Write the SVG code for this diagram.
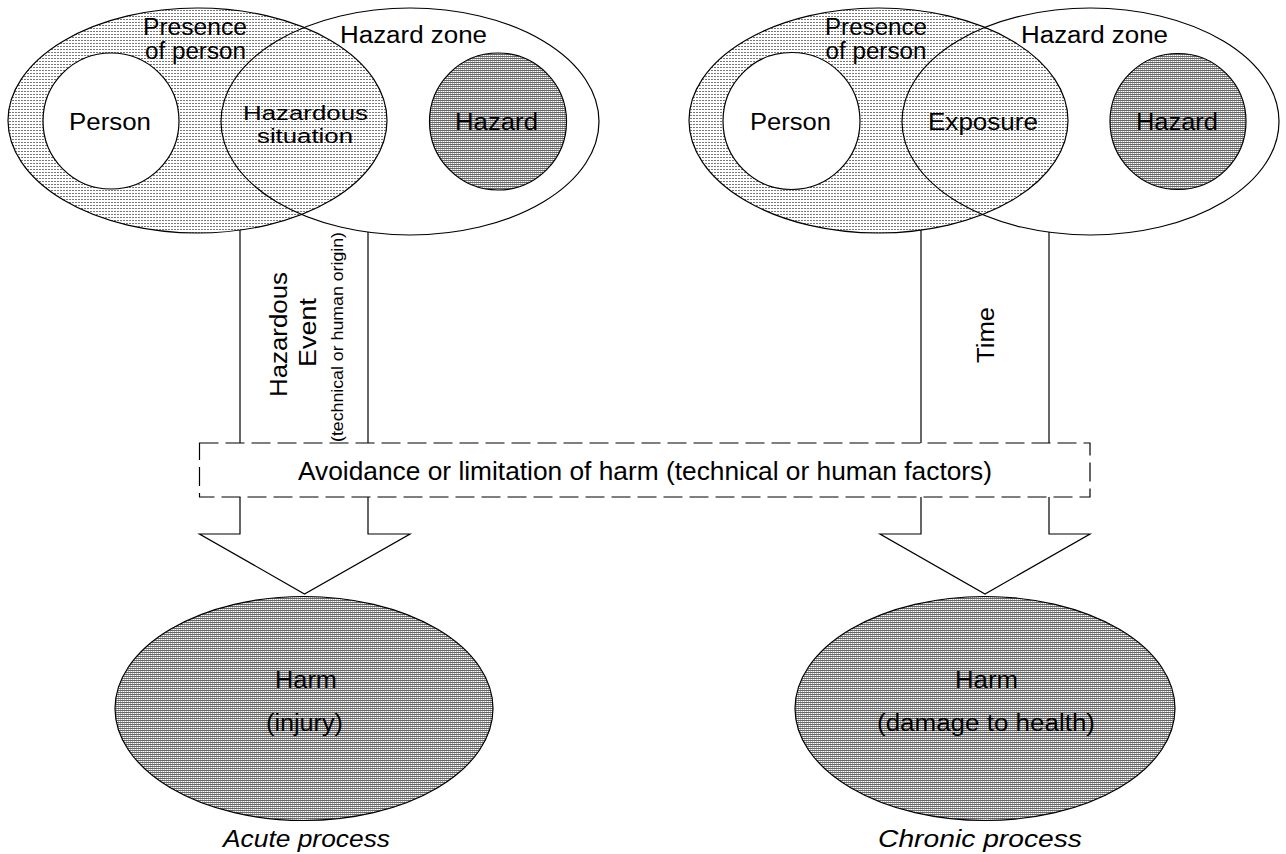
<svg xmlns="http://www.w3.org/2000/svg" width="1286" height="854" viewBox="0 0 1286 854">
<style>
text{font-family:"Liberation Sans",Arial,sans-serif;font-size:23px;fill:#000;text-anchor:middle}
.ln{fill:none;stroke:#000;stroke-width:1.2}
.dots{fill:url(#dots);stroke:#000;stroke-width:1.2}
.hatch{fill:url(#hatch);stroke:#000;stroke-width:1.2}
.white{fill:#fff;stroke:#000;stroke-width:1.2}
.small{font-size:17px}
.tight{font-size:20px}
.it{font-style:italic}
.big{font-size:25px}
</style>
<defs>
<pattern id="dots" width="3" height="3" patternUnits="userSpaceOnUse">
<rect x="0" y="0" width="3" height="3" fill="#fff"/>
<rect x="0" y="1" width="2" height="1" fill="#777"/>
</pattern>
<pattern id="hatch" width="2" height="2" patternUnits="userSpaceOnUse">
<rect x="0" y="0" width="2" height="2" fill="#fff"/>
<rect x="0" y="0" width="2" height="1" fill="#666"/>
<rect x="0" y="1" width="1" height="1" fill="#bbb"/>
</pattern>
</defs>
<rect x="0" y="0" width="1286" height="854" fill="#fff"/>

<g id="left-presence">
<ellipse class="dots" cx="197.5" cy="120.5" rx="189.5" ry="112.5"/>
<text x="195" y="35" textLength="104" lengthAdjust="spacingAndGlyphs">Presence</text>
<text x="195.5" y="59" textLength="101" lengthAdjust="spacingAndGlyphs">of person</text>
</g>
<g id="left-hazard-zone">
<ellipse class="ln" cx="410" cy="121.5" rx="189" ry="113.5"/>
<text x="413.5" y="43" textLength="147" lengthAdjust="spacingAndGlyphs">Hazard zone</text>
</g>
<g id="left-person">
<circle class="white" cx="111" cy="121" r="68"/>
<text x="110" y="130" textLength="82" lengthAdjust="spacingAndGlyphs">Person</text>
</g>
<g id="left-situation">
<text class="tight" x="305.5" y="120" textLength="125" lengthAdjust="spacingAndGlyphs">Hazardous</text>
<text class="tight" x="305" y="143" textLength="96" lengthAdjust="spacingAndGlyphs">situation</text>
</g>
<g id="left-hazard">
<circle class="hatch" cx="498" cy="121.5" r="68.5"/>
<text x="496.5" y="130" textLength="83" lengthAdjust="spacingAndGlyphs">Hazard</text>
</g>

<g id="right-presence">
<ellipse class="dots" cx="878.5" cy="120.5" rx="189.5" ry="112.5"/>
<text x="876" y="35" textLength="102" lengthAdjust="spacingAndGlyphs">Presence</text>
<text x="876" y="59" textLength="101" lengthAdjust="spacingAndGlyphs">of person</text>
</g>
<g id="right-hazard-zone">
<ellipse class="ln" cx="1090.5" cy="121.5" rx="188.5" ry="113.5"/>
<text x="1094.5" y="43" textLength="147" lengthAdjust="spacingAndGlyphs">Hazard zone</text>
</g>
<g id="right-person">
<circle class="white" cx="791.5" cy="121" r="68.5"/>
<text x="790.5" y="130" textLength="81" lengthAdjust="spacingAndGlyphs">Person</text>
</g>
<g id="right-exposure">
<text x="983" y="130" textLength="110" lengthAdjust="spacingAndGlyphs">Exposure</text>
</g>
<g id="right-hazard">
<circle class="hatch" cx="1178" cy="121.5" r="68"/>
<text x="1177" y="130" textLength="82" lengthAdjust="spacingAndGlyphs">Hazard</text>
</g>

<g id="connectors">
<line class="ln" x1="240" y1="230" x2="240" y2="443"/>
<line class="ln" x1="368" y1="232" x2="368" y2="443"/>
<path class="ln" d="M240,497 V534 H199.5 L304.5,594 L410,534 H368 V497"/>
<line class="ln" x1="921" y1="230" x2="921" y2="443"/>
<line class="ln" x1="1049" y1="232" x2="1049" y2="443"/>
<path class="ln" d="M921,497 V534 H880 L985,594 L1090,534 H1049 V497"/>
<text transform="translate(287,334.5) rotate(-90)" textLength="125" lengthAdjust="spacingAndGlyphs">Hazardous</text>
<text transform="translate(316,332.5) rotate(-90)" textLength="69" lengthAdjust="spacingAndGlyphs">Event</text>
<text class="small" transform="translate(343,337) rotate(-90)" textLength="210" lengthAdjust="spacingAndGlyphs">(technical or human origin)</text>
<text transform="translate(994,335) rotate(-90)" textLength="56" lengthAdjust="spacingAndGlyphs">Time</text>
</g>

<g id="avoidance">
<rect x="199.5" y="443" width="890.5" height="54" fill="#fff" stroke="#000" stroke-width="1.2" stroke-dasharray="19 7"/>
<text class="big" x="645" y="480" textLength="694" lengthAdjust="spacingAndGlyphs">Avoidance or limitation of harm (technical or human factors)</text>
</g>

<g id="harm-acute">
<ellipse class="hatch" cx="304" cy="708.5" rx="189" ry="112"/>
<text x="306" y="688" textLength="62" lengthAdjust="spacingAndGlyphs">Harm</text>
<text x="304.5" y="731" textLength="77" lengthAdjust="spacingAndGlyphs">(injury)</text>
<text class="it" x="306.5" y="847" textLength="167" lengthAdjust="spacingAndGlyphs">Acute process</text>
</g>
<g id="harm-chronic">
<ellipse class="hatch" cx="985" cy="708.5" rx="190" ry="112"/>
<text x="986.5" y="688" textLength="63" lengthAdjust="spacingAndGlyphs">Harm</text>
<text x="986" y="731" textLength="218" lengthAdjust="spacingAndGlyphs">(damage to health)</text>
<text class="it" x="980" y="847" textLength="204" lengthAdjust="spacingAndGlyphs">Chronic process</text>
</g>
</svg>
